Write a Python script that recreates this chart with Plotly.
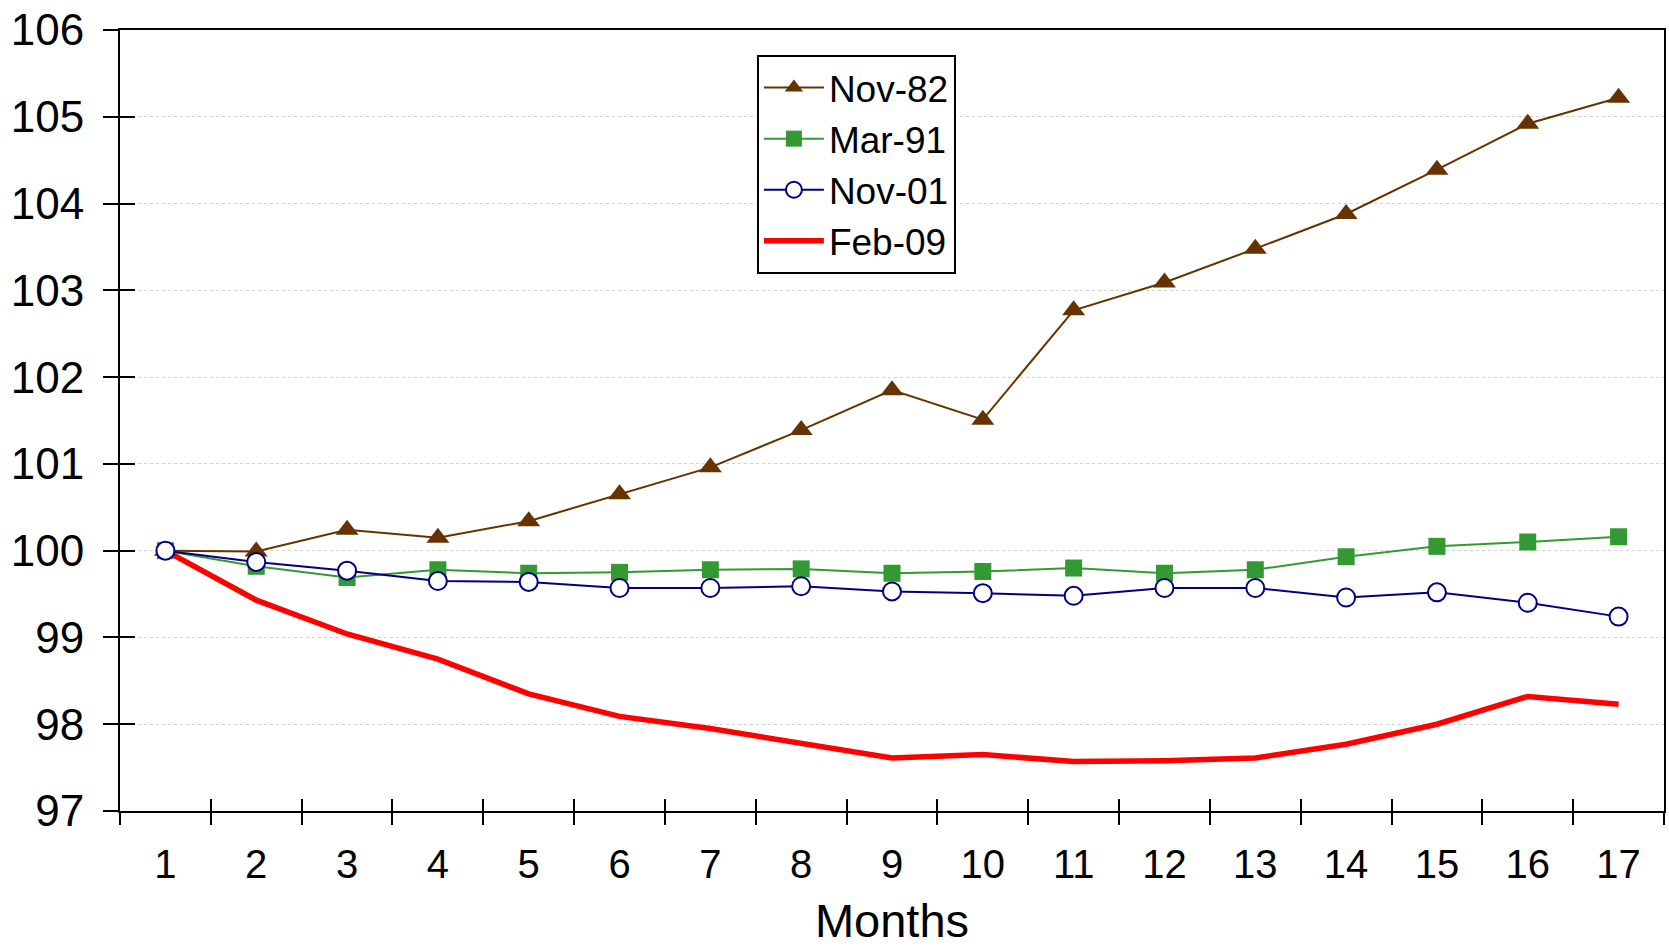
import plotly.graph_objects as go

months = list(range(1, 18))
nov82 = [100, 99.99, 100.24, 100.15, 100.34, 100.65, 100.96, 101.39, 101.85, 101.51,
         102.77, 103.09, 103.48, 103.88, 104.39, 104.92, 105.22]
mar91 = [100, 99.82, 99.69, 99.78, 99.74, 99.75, 99.78, 99.79, 99.74, 99.76,
         99.80, 99.74, 99.78, 99.93, 100.05, 100.10, 100.16]
nov01 = [100, 99.87, 99.77, 99.65, 99.64, 99.57, 99.57, 99.59, 99.53, 99.51,
         99.48, 99.57, 99.57, 99.46, 99.52, 99.40, 99.24]
feb09 = [100, 99.43, 99.04, 98.75, 98.35, 98.09, 97.95, 97.78, 97.61, 97.65,
         97.57, 97.58, 97.61, 97.77, 98.00, 98.32, 98.23]
y_ticks = list(range(97, 107))

FONT = "Liberation Sans, Arial, Helvetica, sans-serif"
boundaries = [m - 0.5 for m in months] + [months[-1] + 0.5]
xr = [boundaries[0], boundaries[-1]]
yr = [y_ticks[0], y_ticks[-1]]

fig = go.Figure()
fig.add_trace(go.Scatter(x=months, y=feb09, name="Feb-09", mode="lines",
                         line=dict(color="#FF0000", width=5.5), legendrank=4))
fig.add_trace(go.Scatter(x=months, y=nov82, name="Nov-82", mode="lines+markers",
                         line=dict(color="#663300", width=2),
                         marker=dict(symbol="triangle-up", size=20, color="#663300"),
                         legendrank=1))
fig.add_trace(go.Scatter(x=months, y=mar91, name="Mar-91", mode="lines+markers",
                         line=dict(color="#339933", width=2),
                         marker=dict(symbol="square", size=17, color="#339933"),
                         legendrank=2))
fig.add_trace(go.Scatter(x=months, y=nov01, name="Nov-01", mode="lines+markers",
                         line=dict(color="#000080", width=2),
                         marker=dict(symbol="circle", size=18, color="white",
                                     line=dict(color="#000080", width=2)),
                         legendrank=3))

fig.update_layout(
    width=1669, height=947,
    margin=dict(l=120, r=5, t=30, b=136, pad=0, autoexpand=False),
    paper_bgcolor="white", plot_bgcolor="white",
    font=dict(family=FONT, color="black"),
    legend=dict(x=0.4125, y=0.968, xanchor="left", yanchor="top",
                bgcolor="white", bordercolor="black", borderwidth=2,
                font=dict(size=37, family=FONT), itemwidth=60,
                traceorder="normal"),
    xaxis=dict(range=xr, tickmode="array", tickvals=months,
               ticktext=[str(m) for m in months], ticks="",
               tickfont=dict(size=40), ticklabelstandoff=17, automargin=False,
               ticklabeloverflow="allow",
               showgrid=False, zeroline=False,
               showline=True, linecolor="black", linewidth=2, mirror=True,
               title=dict(text="Months", font=dict(size=47), standoff=27)),
    xaxis2=dict(range=xr, overlaying="x", anchor="y", side="bottom",
                tickmode="array", tickvals=boundaries, showticklabels=False,
                ticks="outside", ticklen=13, tickwidth=2, tickcolor="black",
                showgrid=False, zeroline=False, showline=False, automargin=False),
    xaxis3=dict(range=xr, overlaying="x", anchor="y", side="bottom",
                tickmode="array", tickvals=boundaries, showticklabels=False,
                ticks="inside", ticklen=12, tickwidth=2, tickcolor="black",
                showgrid=False, zeroline=False, showline=False, automargin=False),
    yaxis=dict(range=yr, tickmode="array", tickvals=y_ticks,
               ticks="outside", ticklen=15, tickwidth=2, tickcolor="black",
               tickfont=dict(size=44), ticklabelstandoff=10, automargin=False,
               ticklabeloverflow="allow",
               showgrid=True, gridcolor="#D0D0D0", gridwidth=1, griddash="dot",
               zeroline=False, showline=True, linecolor="black", linewidth=2,
               mirror=True),
    yaxis2=dict(range=yr, overlaying="y", anchor="x", side="left",
                tickmode="array", tickvals=y_ticks, showticklabels=False,
                ticks="inside", ticklen=15, tickwidth=2, tickcolor="black",
                showgrid=False, zeroline=False, showline=False, automargin=False),
)

# invisible helper traces so the overlay axes render
fig.add_trace(go.Scatter(x=[xr[0]], y=[yr[0]], xaxis="x2", yaxis="y2",
                         mode="markers", marker=dict(opacity=0), showlegend=False,
                         hoverinfo="skip"))
fig.add_trace(go.Scatter(x=[xr[0]], y=[yr[0]], xaxis="x3", yaxis="y2",
                         mode="markers", marker=dict(opacity=0), showlegend=False,
                         hoverinfo="skip"))

fig.write_html("out.html", config={"displayModeBar": False},
               post_script="document.body.style.margin='0';document.body.style.padding='0';")
